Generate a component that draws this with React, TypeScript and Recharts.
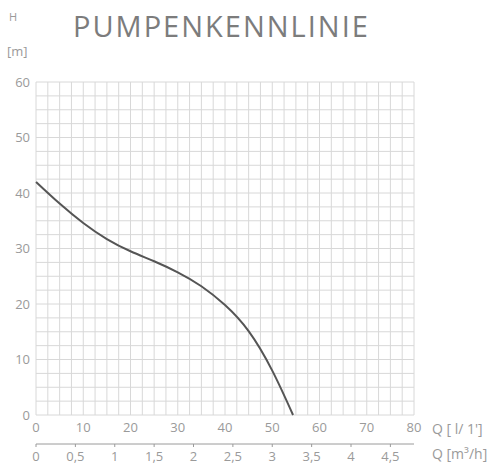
import React from 'react';
import { LineChart, Line, XAxis, YAxis, CartesianGrid } from 'recharts';

const flowLpm = [0, 5, 10, 15, 20, 25, 30, 35, 40, 45, 50, 54.4];
const headM = [42, 38.1, 34.6, 31.7, 29.5, 27.7, 25.7, 23.2, 19.8, 15.1, 8.0, 0];

const xGridTicks = Array.from({ length: 33 }, (_, i) => i * 2.5);
const yGridTicks = Array.from({ length: 25 }, (_, i) => i * 2.5);
const m3Ticks = [0, 0.5, 1, 1.5, 2, 2.5, 3, 3.5, 4, 4.5];

// 1 l/min = 0.06 m³/h
const data = flowLpm.map((q, i) => ({ q, m3: q * 0.06, h: headM[i] }));

const FONT = '"Open Sans", sans-serif';
const GRAY = '#9a9a9a';

export default function App() {
  return (
    <div style={{ position: 'absolute', left: 0, top: 0, width: 487, height: 464, background: '#fff', fontFamily: FONT }}>
      <div style={{ position: 'absolute', left: 9, top: 9, fontSize: 11, color: GRAY }}>H</div>
      <div style={{ position: 'absolute', left: 7, top: 42, fontSize: 13, color: GRAY }}>[m]</div>
      <div style={{ position: 'absolute', left: 73, top: 6, fontSize: 29, color: '#7c7c7c', letterSpacing: 2 }}>PUMPENKENNLINIE</div>
      <LineChart width={487} height={464} data={data} margin={{ top: 82, right: 73, bottom: 0, left: 0 }}>
        <CartesianGrid stroke="#d8d8d8" strokeWidth={1} />
        <XAxis
          dataKey="q"
          type="number"
          domain={[0, 80]}
          ticks={xGridTicks}
          interval={0}
          tickFormatter={(v: number) => (v % 10 === 0 ? String(v) : '')}
          axisLine={false}
          tickLine={false}
          tickSize={0}
          tickMargin={8}
          height={29}
          tick={{ fill: GRAY, fontSize: 13, fontFamily: FONT }}
          label={{ value: "Q [ l/ 1']", position: 'right', offset: 18, fill: GRAY, fontSize: 14, fontFamily: FONT, textAnchor: 'start' }}
        />
        <XAxis
          xAxisId="m3"
          dataKey="m3"
          type="number"
          domain={[0, 4.8]}
          ticks={m3Ticks}
          interval={0}
          tickFormatter={(v: number) => String(v).replace('.', ',')}
          axisLine={{ stroke: GRAY }}
          tickLine={{ stroke: GRAY }}
          tickSize={3}
          tickMargin={5}
          height={20}
          tick={{ fill: GRAY, fontSize: 13, fontFamily: FONT }}
          label={{ value: 'Q [m³/h]', position: 'right', offset: 18, fill: GRAY, fontSize: 14, fontFamily: FONT, textAnchor: 'start' }}
        />
        <YAxis
          type="number"
          domain={[0, 60]}
          ticks={yGridTicks}
          interval={0}
          tickFormatter={(v: number) => (v % 10 === 0 ? String(v) : '')}
          axisLine={false}
          tickLine={false}
          tickSize={0}
          tickMargin={6}
          width={36}
          tick={{ fill: GRAY, fontSize: 13, fontFamily: FONT }}
        />
        <Line type="natural" dataKey="h" stroke="#555" strokeWidth={2} dot={false} isAnimationActive={false} />
      </LineChart>
    </div>
  );
}
